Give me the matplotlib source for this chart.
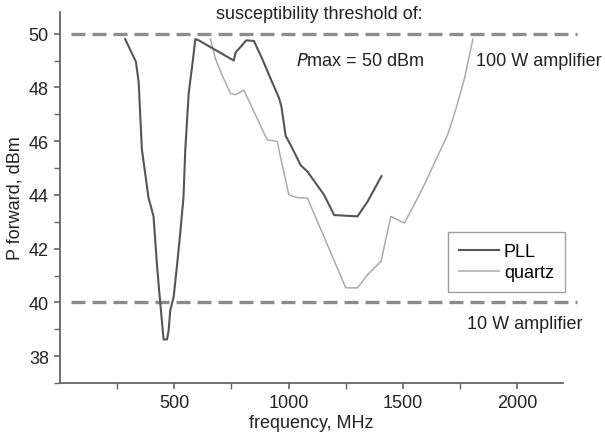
import matplotlib
matplotlib.use("Agg")
import matplotlib.pyplot as plt
from matplotlib.ticker import MultipleLocator

plt.rcParams['font.family'] = ['Liberation Sans', 'DejaVu Sans']

# PLL curve
pll_freq = [285, 332, 344, 358, 387, 409, 424, 436, 453, 468, 475, 482, 497, 512, 526,
            540, 548, 563, 578, 592, 607, 760, 768, 789, 814, 848, 884, 921, 958, 968,
            987, 1009, 1053, 1082, 1155, 1199, 1301, 1345, 1406]
pll_power = [49.8, 48.95, 48.2, 45.7, 43.9, 43.2, 41.4, 40.2, 38.62, 38.62, 38.95, 39.7, 40.2, 41.4, 42.6,
             43.9, 45.7, 47.8, 48.8, 49.8, 49.75, 49.0, 49.3, 49.5, 49.75, 49.73, 49.07, 48.33, 47.6, 47.3,
             46.2, 45.85, 45.1, 44.87, 44.0, 43.25, 43.2, 43.75, 44.7]

# quartz curve
quartz_freq = [658, 680, 709, 746, 768, 804, 848, 906, 950, 965, 1001, 1038, 1082, 1250, 1301,
               1345, 1404, 1447, 1506, 1564, 1594, 1696, 1732, 1769, 1806]
quartz_power = [49.8, 49.07, 48.45, 47.77, 47.73, 47.9, 47.1, 46.05, 45.99, 45.38, 44.0, 43.9, 43.88, 40.54, 40.54,
                41.03, 41.53, 43.2, 42.95, 43.88, 44.39, 46.25, 47.21, 48.33, 49.8]

thresholds = [50, 40]

fig = plt.figure(figsize=(6.05, 4.39), dpi=100)
ax = fig.add_axes([0.0992, 0.1253, 0.8314, 0.8447])

for t in thresholds:
    ax.plot([50, 2260], [t, t], color='#8c8c8c', lw=2.4, dashes=(4.2, 2.1), clip_on=False, zorder=1)

ax.plot(pll_freq, pll_power, color='#555555', lw=1.5, label='PLL', zorder=3)
ax.plot(quartz_freq, quartz_power, color='#ababab', lw=1.1, label='quartz', zorder=2)

ax.set_xlim(0, 2200)
ax.set_ylim(37, 50.8)
ax.set_xticks([500, 1000, 1500, 2000])
ax.set_xticks([250, 750, 1250, 1750], minor=True)
ax.set_yticks([38, 40, 42, 44, 46, 48, 50])
ax.yaxis.set_minor_locator(MultipleLocator(1))

for s in ['top', 'right']:
    ax.spines[s].set_visible(False)
for s in ['left', 'bottom']:
    ax.spines[s].set_color('#666666')
    ax.spines[s].set_linewidth(1.3)

ax.tick_params(axis='both', which='both', colors='#666666', labelcolor='#222222', labelsize=13)
ax.tick_params(axis='both', which='major', length=4, width=1.2, pad=4)
ax.tick_params(axis='both', which='minor', length=4, width=1.0)

ax.set_xlabel('frequency, MHz', fontsize=13, color='#222222', labelpad=2)
ax.set_ylabel('P forward, dBm', fontsize=13, color='#222222', labelpad=4)

ax.text(1136, 50.74, 'susceptibility threshold of:', fontsize=13, color='#222222',
        ha='center', va='center', clip_on=False)
ax.text(1031, 49.0, r'$\it{P}$max = 50 dBm', fontsize=13, color='#222222', va='center')
ax.text(1820, 49.0, '100 W amplifier', fontsize=13, color='#222222', va='center', clip_on=False)
ax.text(1781, 39.2, '10 W amplifier', fontsize=13, color='#222222', va='center', clip_on=False)

leg = ax.legend(loc='upper left', bbox_to_anchor=(448 / 605, 1 - 233 / 439),
                bbox_transform=fig.transFigure, fontsize=13, frameon=True, fancybox=False,
                handlelength=2.2, handletextpad=0.3, borderpad=0.6, labelspacing=0.25,
                borderaxespad=0)
leg.get_frame().set_edgecolor('#888888')
leg.get_frame().set_linewidth(1.0)

fig.savefig('out.png', dpi=100)
